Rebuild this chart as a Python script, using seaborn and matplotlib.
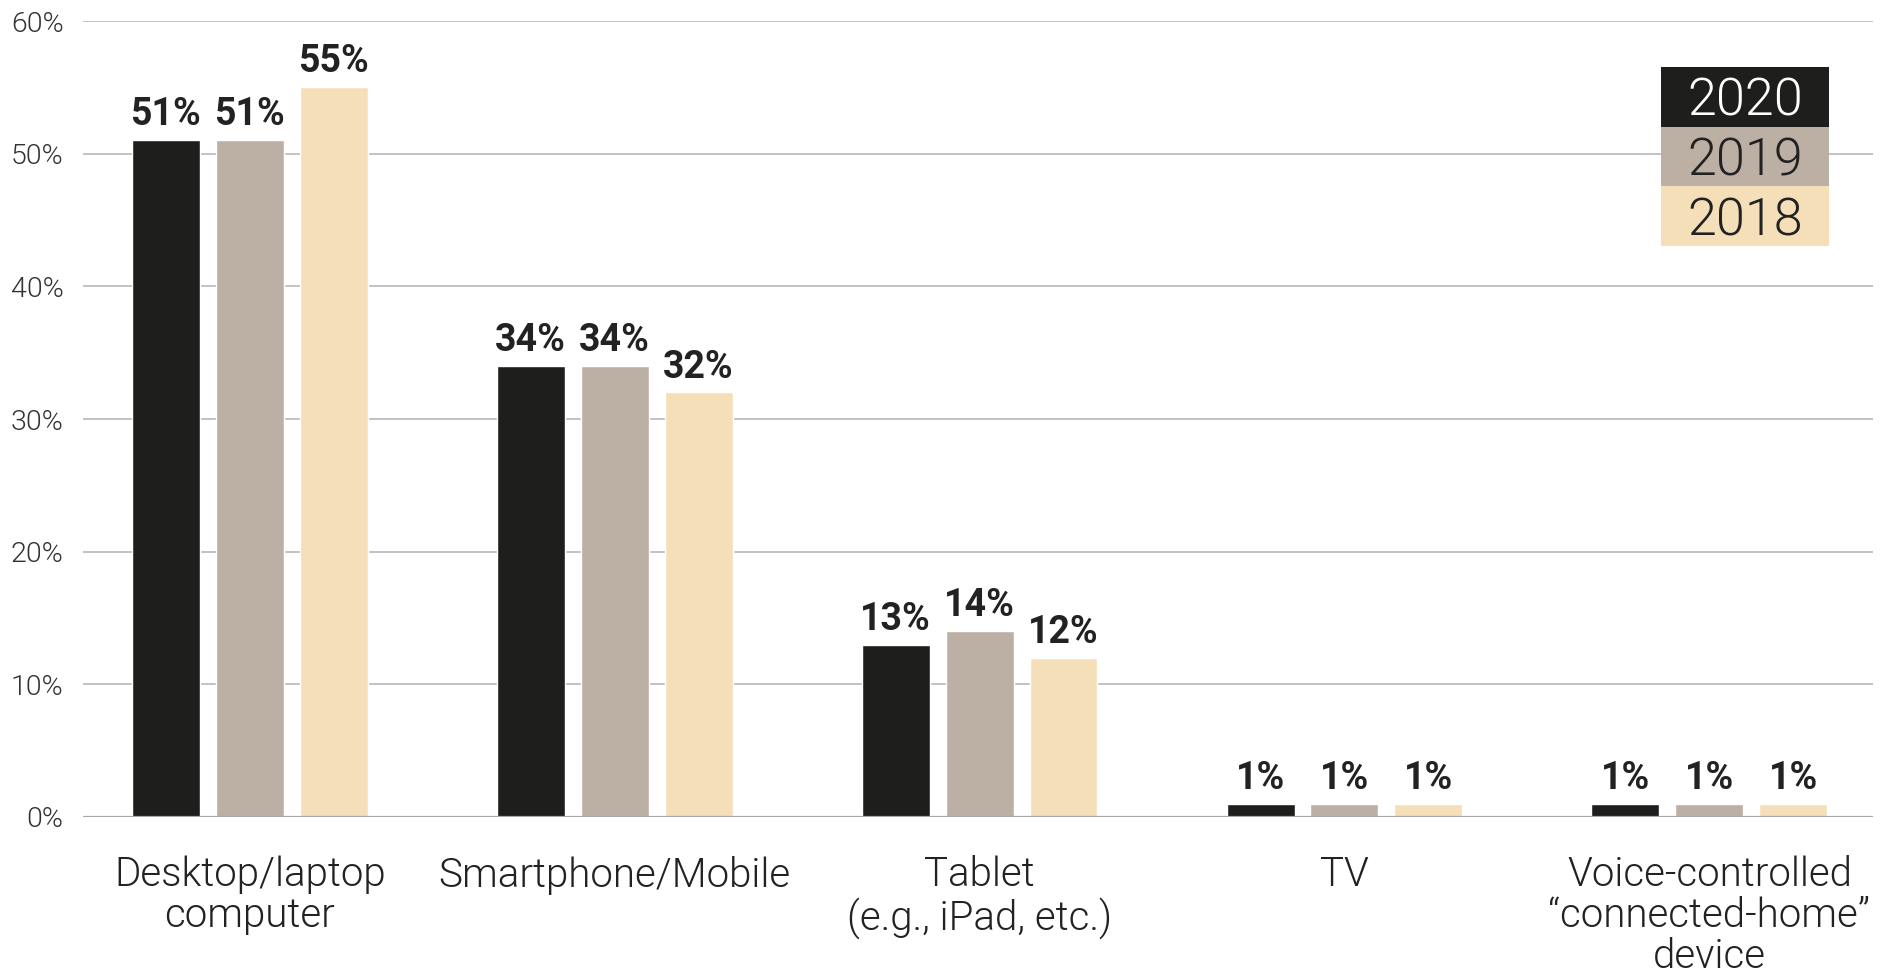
import matplotlib
matplotlib.use("Agg")
import matplotlib.pyplot as plt
import pandas as pd
import seaborn as sb
from matplotlib.patches import Rectangle

# 데이터
devices = ["Desktop/laptop\ncomputer", "Smartphone/Mobile", "Tablet\n(e.g., iPad, etc.)",
           "TV", "Voice-controlled\n\u201cconnected-home\u201d\ndevice"]
years = ["2020", "2019", "2018"]
share_2020 = [51, 34, 13, 1, 1]
share_2019 = [51, 34, 14, 1, 1]
share_2018 = [55, 32, 12, 1, 1]
yticks = [0, 10, 20, 30, 40, 50, 60]

colors = ["#1e1e1c", "#bcb0a5", "#f4dfb9"]

df = pd.DataFrame({
    "device": devices * 3,
    "year": [y for y in years for _ in devices],
    "share": share_2020 + share_2019 + share_2018,
})

sb.set_style("white")
plt.rcParams["font.family"] = ["Roboto", "DejaVu Sans"]
text_col = "#222222"
LIGHT = 300

f = plt.figure(figsize=(18.81, 9.74), dpi=100)
ax = f.add_axes([0.0441, 0.1612, 0.9514, 0.8172])

sb.barplot(data=df, x="device", y="share", hue="year", hue_order=years,
           palette=colors, width=0.69, gap=0.19, saturation=1,
           legend=False, ax=ax, zorder=3)

for c in ax.containers:
    ax.bar_label(c, labels=[f"{v:.0f}%" for v in c.datavalues], padding=5,
                 fontsize=27, fontweight="bold", color=text_col)

ax.set_ylim(0, 60)
ax.set_xlim(-0.457, 4.447)
ax.set_yticks(yticks)
ax.set_yticklabels([f"{t}%" for t in yticks])
ax.yaxis.grid(True, color="#bdbdbd", linewidth=1.3, zorder=0)
ax.set_axisbelow(True)
for s in ax.spines.values():
    s.set_visible(False)
ax.axhline(0, color="#a8a8a8", linewidth=1.6, zorder=4)

ax.tick_params(axis="y", length=0, pad=14, labelsize=20.5, labelcolor="#333333")
ax.tick_params(axis="x", length=0, pad=28, labelsize=29, labelcolor=text_col)
for lab in ax.get_yticklabels():
    lab.set_fontweight(LIGHT)
for lab in ax.get_xticklabels():
    lab.set_fontweight(LIGHT)
    lab.set_linespacing(1.08)
ax.set_xlabel("")
ax.set_ylabel("")

# 범례 (색 상자 안에 연도)
W, H = 1881.0, 974.0
x0, bw, bh = 1661, 168, 59.7
txt_cols = ["white", text_col, text_col]
for i, (yr, col) in enumerate(zip(years, colors)):
    top = 67 + i * bh
    f.patches.append(Rectangle((x0 / W, 1 - (top + bh) / H), bw / W, bh / H,
                               transform=f.transFigure, facecolor=col,
                               edgecolor="none", zorder=10))
    f.text((x0 + bw / 2) / W, 1 - (top + bh / 2 + 5) / H, yr, ha="center", va="center",
           fontsize=37.5, fontweight=LIGHT, color=txt_cols[i], zorder=11)

f.savefig("out.png", dpi=100)
